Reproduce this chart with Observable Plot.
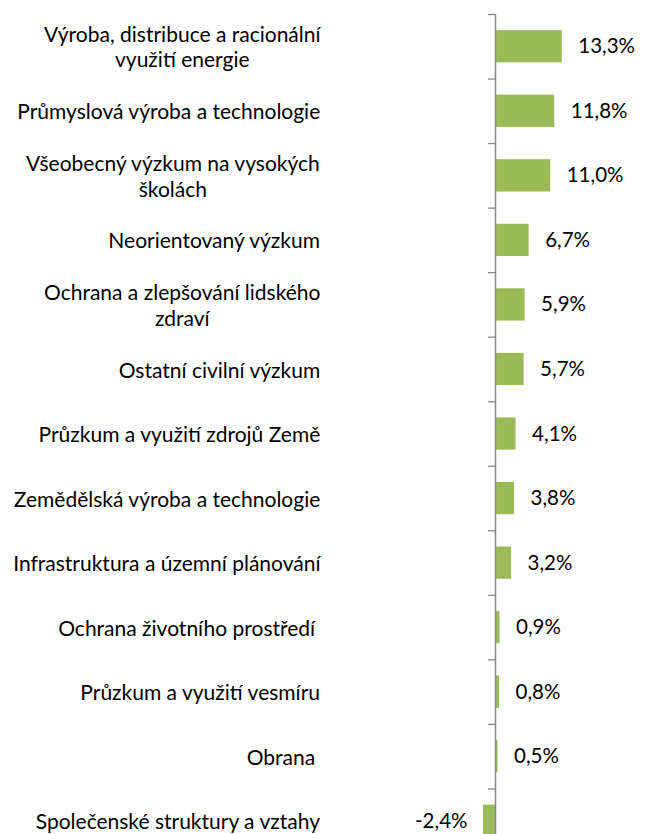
<!DOCTYPE html>
<html>
<head>
<meta charset="utf-8">
<script src="https://cdn.jsdelivr.net/npm/d3@7"></script>
<script src="https://cdn.jsdelivr.net/npm/@observablehq/plot@0.6"></script>
<style>
  html, body { margin: 0; padding: 0; background: #fff; overflow: hidden; }
  #chart { width: 646px; height: 834px; overflow: hidden; }
</style>
</head>
<body>
<div id="chart"></div>
<script>
// ---- data ----
const categories = [
  "Výroba, distribuce a racionální\nvyužití energie",
  "Průmyslová výroba a technologie",
  "Všeobecný výzkum na vysokých\nškolách",
  "Neorientovaný výzkum",
  "Ochrana a zlepšování lidského\nzdraví",
  "Ostatní civilní výzkum",
  "Průzkum a využití zdrojů Země",
  "Zemědělská výroba a technologie",
  "Infrastruktura a územní plánování",
  "Ochrana životního prostředí\u00a0",
  "Průzkum a využití vesmíru",
  "Obrana\u00a0",
  "Společenské struktury a vztahy"
];
const values = [13.3, 11.8, 11.0, 6.7, 5.9, 5.7, 4.1, 3.8, 3.2, 0.9, 0.8, 0.5, -2.4];

// ---- layout ----
const W = 646, H = 853;
const zeroPx = 495, pxPerUnit = 5.02;
const xDomain = [-zeroPx / pxPerUnit, (W - zeroPx) / pxPerUnit];
const xs = d3.scaleLinear(xDomain, [0, W]);
const marginTop = 14;
const step = (H - marginTop) / categories.length;
const labelGap = 175;      // px from axis to right edge of category labels
const fontFamily = "Lato, 'Open Sans', sans-serif";
const labelSize = 21;
const valueSize = 20.5;

const ctx = document.createElement("canvas").getContext("2d");
ctx.font = `${labelSize}px ${fontFamily}`;
const blockWidth = s => d3.max(s.split("\n"), line => ctx.measureText(line).width);

const fmt = v => v.toFixed(1).replace(".", ",") + "%";
const rows = categories.map((c, i) => ({
  cat: c,
  value: values[i],
  label: fmt(values[i]),
  lx: xs.invert(xs(0) - labelGap - blockWidth(c) / 2)
}));

const chart = Plot.plot({
  width: W,
  height: H,
  marginLeft: 0,
  marginRight: 0,
  marginTop: marginTop,
  marginBottom: 0,
  style: { fontFamily: fontFamily, color: "#000", background: "#fff" },
  x: { domain: xDomain, axis: null },
  y: { domain: categories, axis: null, paddingInner: 0.5, paddingOuter: 0.25, round: false },
  marks: [
    Plot.barX(rows, { x: "value", y: "cat", fill: "#9BBB59" }),
    Plot.ruleY(rows, { y: "cat", x1: xs.invert(xs(0) - 7), x2: 0, dy: -step / 2, stroke: "#898989", strokeWidth: 1.3 }),
    Plot.ruleX([0], { stroke: "#898989", strokeWidth: 1.5 }),
    Plot.text(rows, { x: "lx", y: "cat", text: "cat", textAnchor: "middle", lineHeight: 1.2, fontSize: labelSize, fill: "#000" }),
    Plot.text(rows.filter(d => d.value >= 0), { x: "value", y: "cat", text: "label", textAnchor: "start", dx: 16, fontSize: valueSize, fill: "#000" }),
    Plot.text(rows.filter(d => d.value < 0), { x: "value", y: "cat", text: "label", textAnchor: "end", dx: -16, fontSize: valueSize, fill: "#000" })
  ]
});
document.getElementById("chart").appendChild(chart);
</script>
</body>
</html>
